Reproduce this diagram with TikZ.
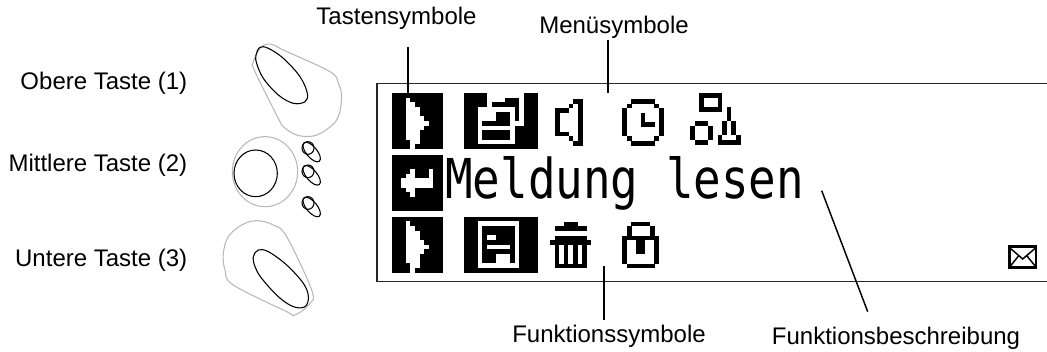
\documentclass[tikz,border=0pt]{standalone}
\usepackage{fontspec}
\setmainfont{Liberation Sans}
\newfontfamily\lcdfont{DejaVu Sans Mono}
\newcount\pxc
\def\pxx{0}\def\pxy{0}\def\pxw{4.6}\def\pxh{4.67}
\def\pxscan#1{\ifx#1;\let\pxnext\relax\else
  \ifx#1X\fill[black] ({\pxx+\the\pxc*\pxw-0.08},{\pxy+\ri*\pxh-0.08}) rectangle ({\pxx+(\the\pxc+1)*\pxw+0.08},{\pxy+(\ri+1)*\pxh+0.08});\fi
  \advance\pxc by 1 \let\pxnext\pxscan\fi\pxnext}
\newcommand\pxmap[3]{\def\pxx{#1}\def\pxy{#2}%
  \foreach \rr [count=\ri from 0] in {#3}{\pxc=0 \expandafter\pxscan\rr;}}
\tikzset{
  lbl/.style={font=\fontsize{18}{20}\selectfont,inner sep=0pt},
  leader/.style={draw=black,line width=1.1pt},
  frameline/.style={draw=black!85,line width=1.2pt},
  knobout/.style={draw=black!28,line width=0.8pt},
  knobin/.style={draw=black,line width=0.8pt},
}
\begin{document}
\begin{tikzpicture}[x=0.75pt,y=-0.75pt]
\useasboundingbox (0,0) rectangle (1047,352);
% knobs
\begin{scope}[shift={(200,30)},x=0.25pt,y=-0.25pt]
\draw[knobout] plot[smooth cycle,tension=0.6] coordinates {(160,95)(185,50)(215,43)(250,60)(390,125)(415,160)(425,200)(415,260)(385,295)(340,318)(290,315)(250,290)(235,265)(165,125)};
\draw[knobin] plot[smooth cycle,tension=0.6] coordinates {(168,75)(180,52)(205,55)(250,85)(300,140)(322,190)(315,215)(280,220)(235,195)(190,145)(170,100)};
\draw[knobout] (195,425) ellipse [x radius=98,y radius=105];
\draw[knobin] (167,430) ellipse [x radius=65,y radius=70];
\draw[knobout] plot[smooth cycle,tension=0.6] coordinates {(70,670)(85,620)(125,585)(170,572)(220,585)(260,620)(335,780)(330,820)(285,855)(260,845)(100,765)(75,720)};
\draw[knobin] plot[smooth cycle,tension=0.6] coordinates {(160,680)(175,660)(205,665)(260,705)(310,760)(325,800)(315,830)(280,830)(235,800)(185,745)(165,710)};
\foreach \dy in {0,70,165}{
  \draw[knobin] (324,{354+\dy}) circle [x radius=18,y radius=19];
  \draw[knobin,rotate around={-50:(335,{366+\dy})}] (335,{366+\dy}) ellipse [x radius=36,y radius=16];
}
\end{scope}
% display frame
\draw[frameline] (1047,83.5) -- (376.7,83.5) -- (376.7,281.7) -- (1047,281.7);
% row 1
\pxmap{392}{93}{XXXXXXXXXXX,XXXoXXXXXXX,XXXooXXXXXX,XXXoooXXXXX,XXXoooXXXXX,XXXooooXXXX,XXXoooooXXX,XXXooooXXXX,XXXoooXXXXX,XXXoooXXXXX,XXXXooXXXXX,XXXXoXXXXXX}
\pxmap{464}{93}{XXXXXooooooooXXX,XXXXXooooXXXoXXX,XXXXXoXXXXXXoXXX,XXXooooooooXoXXX,XXXooooXXXoXoXXX,XXXooooXXXoXoXXX,XXXoXXXXXXoooXXX,XXXooooooooXXXXX,XXXoXXXXXXoXXXXX,XXXoXXXXXXoXXXXX,XXXooooooooXXXXX,XXXXXXXXXXXXXXXX}
\pxmap{555}{99}{ooooXX,oooXoX,XXXooX,XooooX,XooooX,XooooX,XooooX,XXXooX,oooXoX,ooooXX}
\pxmap{622.3}{99}{ooXXXXXoo,oXoooooXo,XoooooooX,XoooXoooX,XoooXoooX,XoooXXXoX,XoooooooX,XoooooooX,oXoooooXo,ooXXXXXoo}
\pxmap{690}{93.3}{ooXXXXXoooo,ooXoooXoooo,ooXoooXoooo,ooXXXXXoXoo,ooooooooXoo,ooooooooXoo,oXXXoooXoXo,XoooXooXoXo,XoooXooXoXo,XoooXoXoooX,oXXXooXXXXX}
% row 2
\pxmap{392}{155}{XXXXXXXXXXX,XXXXXXXXXXX,XXXXXXXXXXX,XXXXoXXXoXX,XXXooXXXoXX,XXoooooooXX,XXoooooooXX,XXXooXXXXXX,XXXXoXXXXXX,XXXXXXXXXXX,XXXXXXXXXXX,XXXXXXXXXXX}
\node[anchor=base west,inner sep=0pt,xscale=0.835,transform shape] (msg) at (445,199) {\fontsize{41.2}{44}\lcdfont Meldung lesen};
% row 3
\pxmap{392}{216.7}{XXXXXXXXXXX,XXXoXXXXXXX,XXXooXXXXXX,XXXoooXXXXX,XXXoooXXXXX,XXXooooXXXX,XXXoooooXXX,XXXooooXXXX,XXXoooXXXXX,XXXoooXXXXX,XXXXooXXXXX,XXXXoXXXXXX}
\pxmap{464}{216.7}{XXXXXXXXXXXXXXXX,XXXoooooooooXXXX,XXXoXXXXXXXoXXXX,XXXoXXXXXXXoXXXX,XXXoXooXXXXoXXXX,XXXoXXXXXXXoXXXX,XXXoXoooooXoXXXX,XXXoXXXXXXXoXXXX,XXXoXXXoooXoXXXX,XXXoXXXoooXoXXXX,XXXoooooooooXXXX,XXXXXXXXXXXXXXXX}
\pxmap{550}{221.7}{oooXXXooo,oXXXXXXXo,ooooooooo,oXXXXXXXo,XXXXXXXXX,oXoXoXoXo,oXoXoXoXo,oXoXoXoXo,oXoXoXoXo,oXXXXXXXo}
\pxmap{622.3}{221.7}{ooXXXXoo,oXooooXo,oXooooXo,XXXXXXXX,XooXXooX,XooXXooX,XooXXooX,XooooooX,XooooooX,oXXXXXXo}
% envelope
\draw[black,line width=1.7pt] (1009.5,246.5) rectangle (1036,267.6);
\draw[black,line width=1.1pt] (1010,248) -- (1022.7,259) -- (1035.5,248) (1010,266.5) -- (1018.5,256) (1035.5,266.5) -- (1027,256);
% labels
\node[lbl] (ltasten) at (396.5,18) {Tastensymbole};
\node[lbl] (lmenu) at (614,27) {Menüsymbole};
\node[lbl,anchor=east] (lobere) at (187.5,83) {Obere Taste (1)};
\node[lbl,anchor=east] (lmitte) at (187.5,165) {Mittlere Taste (2)};
\node[lbl,anchor=east] (lunten) at (187.5,260) {Untere Taste (3)};
\node[lbl] (lfsym) at (609,336) {Funktionssymbole};
\node[lbl] (lfbes) at (896,338) {Funktionsbeschreibung};
% leaders
\coordinate (ta) at (408,47); \coordinate (tb) at (408,93);
\coordinate (ma) at (608,40); \coordinate (mb) at (608,93);
\coordinate (fa) at (604,266); \coordinate (fb) at (604,320);
\coordinate (ba) at (821.7,190.7); \coordinate (bb) at (867.7,311.7);
\draw[leader] (ta) -- (tb);
\draw[leader] (ma) -- (mb);
\draw[leader] (fa) -- (fb);
\draw[leader] (ba) -- (bb);
\end{tikzpicture}
\end{document}
